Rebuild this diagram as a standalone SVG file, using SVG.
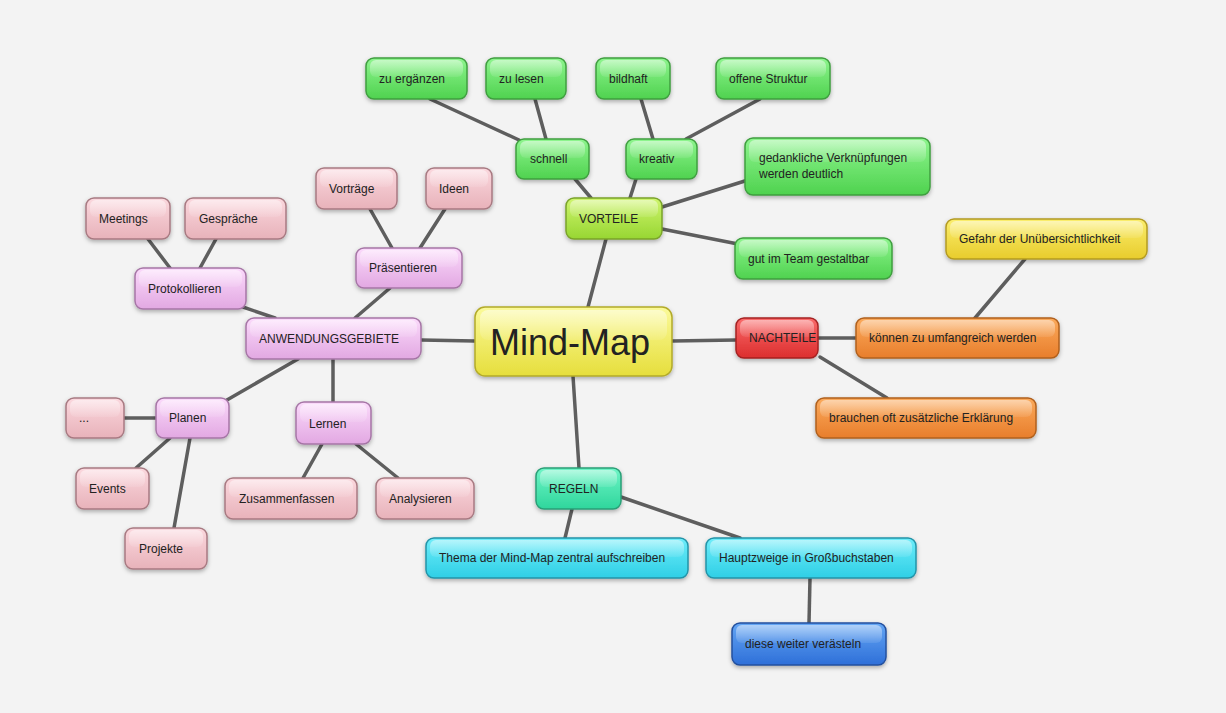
<svg xmlns="http://www.w3.org/2000/svg" width="1226" height="713" viewBox="0 0 1226 713">
<defs>
<linearGradient id="gY" x1="0" y1="0" x2="0" y2="1"><stop offset="0" stop-color="#fbfa9a"/><stop offset="1" stop-color="#e6de3c"/></linearGradient>
<linearGradient id="gG" x1="0" y1="0" x2="0" y2="1"><stop offset="0" stop-color="#8ef58e"/><stop offset="1" stop-color="#4fd24f"/></linearGradient>
<linearGradient id="gV" x1="0" y1="0" x2="0" y2="1"><stop offset="0" stop-color="#cff56e"/><stop offset="1" stop-color="#97d632"/></linearGradient>
<linearGradient id="gR" x1="0" y1="0" x2="0" y2="1"><stop offset="0" stop-color="#fa6a6a"/><stop offset="1" stop-color="#dc2e2e"/></linearGradient>
<linearGradient id="gO" x1="0" y1="0" x2="0" y2="1"><stop offset="0" stop-color="#fbaa5c"/><stop offset="1" stop-color="#e87e2c"/></linearGradient>
<linearGradient id="gYe" x1="0" y1="0" x2="0" y2="1"><stop offset="0" stop-color="#fbee6e"/><stop offset="1" stop-color="#e8cc2c"/></linearGradient>
<linearGradient id="gT" x1="0" y1="0" x2="0" y2="1"><stop offset="0" stop-color="#6ef5c6"/><stop offset="1" stop-color="#2fd69c"/></linearGradient>
<linearGradient id="gC" x1="0" y1="0" x2="0" y2="1"><stop offset="0" stop-color="#6eedfa"/><stop offset="1" stop-color="#2fcfe6"/></linearGradient>
<linearGradient id="gB" x1="0" y1="0" x2="0" y2="1"><stop offset="0" stop-color="#64a6f4"/><stop offset="1" stop-color="#2e6fd8"/></linearGradient>
<linearGradient id="gP" x1="0" y1="0" x2="0" y2="1"><stop offset="0" stop-color="#fbdafb"/><stop offset="1" stop-color="#e2a8e2"/></linearGradient>
<linearGradient id="gK" x1="0" y1="0" x2="0" y2="1"><stop offset="0" stop-color="#fbd8de"/><stop offset="1" stop-color="#e8b2ba"/></linearGradient>
<linearGradient id="gH" x1="0" y1="0" x2="0" y2="1"><stop offset="0" stop-color="#ffffff" stop-opacity="0.5"/><stop offset="1" stop-color="#ffffff" stop-opacity="0.08"/></linearGradient>
<filter id="sh" x="-20%" y="-30%" width="140%" height="170%"><feDropShadow dx="0" dy="2" stdDeviation="2" flood-color="#000" flood-opacity="0.3"/></filter>
</defs>
<style>
.n rect.b{stroke-width:1.5;filter:url(#sh)}
.n rect.h{fill:url(#gH)}
.n text{font-family:"Liberation Sans",Arial,sans-serif;font-size:12px;fill:#222}
.Y rect.b{fill:url(#gY);stroke:#b3ab2a}
.G rect.b{fill:url(#gG);stroke:#3f9e3f}
.V rect.b{fill:url(#gV);stroke:#7aa32a}
.R rect.b{fill:url(#gR);stroke:#a52222}
.O rect.b{fill:url(#gO);stroke:#b0601e}
.Ye rect.b{fill:url(#gYe);stroke:#b39a22}
.T rect.b{fill:url(#gT);stroke:#2a9f77}
.C rect.b{fill:url(#gC);stroke:#2294a8}
.B rect.b{fill:url(#gB);stroke:#24509e}
.P rect.b{fill:url(#gP);stroke:#a676a6}
.K rect.b{fill:url(#gK);stroke:#a87a82}
#connectors line{stroke:#5e5e5e;stroke-width:3.5;stroke-linecap:round}
</style>
<rect width="1226" height="713" fill="#f3f3f3"/>
<g id="connectors">
<line x1="588" y1="307" x2="606" y2="239"/>
<line x1="591" y1="198" x2="575" y2="179"/>
<line x1="630" y1="198" x2="636" y2="179"/>
<line x1="519" y1="140" x2="430" y2="99"/>
<line x1="546" y1="139" x2="535" y2="99"/>
<line x1="653" y1="139" x2="641" y2="99"/>
<line x1="686" y1="139" x2="760" y2="99"/>
<line x1="662" y1="207" x2="748" y2="180"/>
<line x1="662" y1="229" x2="738" y2="244"/>
<line x1="672" y1="341" x2="736" y2="340"/>
<line x1="818" y1="338" x2="856" y2="338"/>
<line x1="820" y1="357" x2="887" y2="398"/>
<line x1="975" y1="318" x2="1025" y2="259"/>
<line x1="573" y1="376" x2="579" y2="468"/>
<line x1="572" y1="509" x2="565" y2="538"/>
<line x1="621" y1="497" x2="740" y2="538"/>
<line x1="810" y1="578" x2="809" y2="623"/>
<line x1="475" y1="341" x2="421" y2="340"/>
<line x1="355" y1="318" x2="390" y2="288"/>
<line x1="392" y1="248" x2="370" y2="209"/>
<line x1="420" y1="248" x2="445" y2="209"/>
<line x1="275" y1="318" x2="240" y2="306"/>
<line x1="170" y1="268" x2="148" y2="239"/>
<line x1="200" y1="268" x2="216" y2="239"/>
<line x1="298" y1="359" x2="220" y2="404"/>
<line x1="333" y1="359" x2="333" y2="402"/>
<line x1="156" y1="418" x2="124" y2="418"/>
<line x1="170" y1="438" x2="136" y2="468"/>
<line x1="190" y1="438" x2="174" y2="528"/>
<line x1="322" y1="444" x2="303" y2="478"/>
<line x1="356" y1="444" x2="398" y2="478"/>
</g>
<g id="mindmap" class="n Y"><rect class="b" x="475" y="307" width="197" height="69" rx="10"/><rect class="h" x="480" y="310" width="187" height="30" rx="8"/><text x="490" y="355" style="font-size:36px">Mind-Map</text></g>
<g id="vorteile" class="n V"><rect class="b" x="566" y="198" width="96" height="41" rx="8"/><rect class="h" x="570" y="200" width="88" height="17" rx="6"/><text x="579" y="223">VORTEILE</text></g>
<g id="schnell" class="n G"><rect class="b" x="516" y="139" width="73" height="40" rx="8"/><rect class="h" x="520" y="141" width="65" height="17" rx="6"/><text x="530" y="163">schnell</text></g>
<g id="kreativ" class="n G"><rect class="b" x="626" y="139" width="71" height="40" rx="8"/><rect class="h" x="630" y="141" width="63" height="17" rx="6"/><text x="639" y="163">kreativ</text></g>
<g id="zuergaenzen" class="n G"><rect class="b" x="366" y="58" width="101" height="41" rx="8"/><rect class="h" x="370" y="60" width="93" height="17" rx="6"/><text x="379" y="83">zu ergänzen</text></g>
<g id="zulesen" class="n G"><rect class="b" x="486" y="58" width="80" height="41" rx="8"/><rect class="h" x="490" y="60" width="72" height="17" rx="6"/><text x="499" y="83">zu lesen</text></g>
<g id="bildhaft" class="n G"><rect class="b" x="596" y="58" width="74" height="41" rx="8"/><rect class="h" x="600" y="60" width="66" height="17" rx="6"/><text x="609" y="83">bildhaft</text></g>
<g id="offenestruktur" class="n G"><rect class="b" x="716" y="58" width="114" height="41" rx="8"/><rect class="h" x="720" y="60" width="106" height="17" rx="6"/><text x="729" y="83">offene Struktur</text></g>
<g id="gedankliche" class="n G"><rect class="b" x="745" y="138" width="185" height="57" rx="8"/><rect class="h" x="749" y="140" width="177" height="22" rx="6"/><text x="759" y="162">gedankliche Verknüpfungen</text><text x="759" y="178">werden deutlich</text></g>
<g id="team" class="n G"><rect class="b" x="735" y="238" width="157" height="41" rx="8"/><rect class="h" x="739" y="240" width="149" height="17" rx="6"/><text x="748" y="263">gut im Team gestaltbar</text></g>
<g id="nachteile" class="n R"><rect class="b" x="736" y="318" width="82" height="40" rx="8"/><rect class="h" x="740" y="320" width="74" height="17" rx="6"/><text x="749" y="342">NACHTEILE</text></g>
<g id="umfangreich" class="n O"><rect class="b" x="856" y="318" width="203" height="40" rx="8"/><rect class="h" x="860" y="320" width="195" height="17" rx="6"/><text x="869" y="342">können zu umfangreich werden</text></g>
<g id="erklaerung" class="n O"><rect class="b" x="816" y="398" width="220" height="40" rx="8"/><rect class="h" x="820" y="400" width="212" height="17" rx="6"/><text x="829" y="422">brauchen oft zusätzliche Erklärung</text></g>
<g id="gefahr" class="n Ye"><rect class="b" x="946" y="219" width="201" height="40" rx="8"/><rect class="h" x="950" y="221" width="193" height="17" rx="6"/><text x="959" y="243">Gefahr der Unübersichtlichkeit</text></g>
<g id="regeln" class="n T"><rect class="b" x="536" y="468" width="85" height="41" rx="8"/><rect class="h" x="540" y="470" width="77" height="17" rx="6"/><text x="549" y="493">REGELN</text></g>
<g id="thema" class="n C"><rect class="b" x="426" y="538" width="262" height="40" rx="8"/><rect class="h" x="430" y="540" width="254" height="17" rx="6"/><text x="439" y="562">Thema der Mind-Map zentral aufschreiben</text></g>
<g id="hauptzweige" class="n C"><rect class="b" x="706" y="538" width="210" height="40" rx="8"/><rect class="h" x="710" y="540" width="202" height="17" rx="6"/><text x="719" y="562">Hauptzweige in Großbuchstaben</text></g>
<g id="veraesteln" class="n B"><rect class="b" x="732" y="623" width="154" height="42" rx="8"/><rect class="h" x="736" y="625" width="146" height="18" rx="6"/><text x="745" y="648">diese weiter verästeln</text></g>
<g id="anwendungsgebiete" class="n P"><rect class="b" x="246" y="318" width="175" height="41" rx="8"/><rect class="h" x="250" y="320" width="167" height="17" rx="6"/><text x="259" y="343">ANWENDUNGSGEBIETE</text></g>
<g id="praesentieren" class="n P"><rect class="b" x="356" y="248" width="106" height="40" rx="8"/><rect class="h" x="360" y="250" width="98" height="17" rx="6"/><text x="369" y="272">Präsentieren</text></g>
<g id="vortraege" class="n K"><rect class="b" x="316" y="168" width="81" height="41" rx="8"/><rect class="h" x="320" y="170" width="73" height="17" rx="6"/><text x="329" y="193">Vorträge</text></g>
<g id="ideen" class="n K"><rect class="b" x="426" y="168" width="66" height="41" rx="8"/><rect class="h" x="430" y="170" width="58" height="17" rx="6"/><text x="439" y="193">Ideen</text></g>
<g id="protokollieren" class="n P"><rect class="b" x="135" y="268" width="111" height="41" rx="8"/><rect class="h" x="139" y="270" width="103" height="17" rx="6"/><text x="148" y="293">Protokollieren</text></g>
<g id="meetings" class="n K"><rect class="b" x="86" y="198" width="84" height="41" rx="8"/><rect class="h" x="90" y="200" width="76" height="17" rx="6"/><text x="99" y="223">Meetings</text></g>
<g id="gespraeche" class="n K"><rect class="b" x="185" y="198" width="101" height="41" rx="8"/><rect class="h" x="189" y="200" width="93" height="17" rx="6"/><text x="199" y="223">Gespräche</text></g>
<g id="planen" class="n P"><rect class="b" x="156" y="398" width="73" height="40" rx="8"/><rect class="h" x="160" y="400" width="65" height="17" rx="6"/><text x="169" y="422">Planen</text></g>
<g id="dots" class="n K"><rect class="b" x="66" y="398" width="58" height="40" rx="8"/><rect class="h" x="70" y="400" width="50" height="17" rx="6"/><text x="79" y="422">...</text></g>
<g id="events" class="n K"><rect class="b" x="76" y="468" width="73" height="41" rx="8"/><rect class="h" x="80" y="470" width="65" height="17" rx="6"/><text x="89" y="493">Events</text></g>
<g id="projekte" class="n K"><rect class="b" x="125" y="528" width="82" height="41" rx="8"/><rect class="h" x="129" y="530" width="74" height="17" rx="6"/><text x="139" y="553">Projekte</text></g>
<g id="lernen" class="n P"><rect class="b" x="296" y="402" width="75" height="42" rx="8"/><rect class="h" x="300" y="404" width="67" height="18" rx="6"/><text x="309" y="428">Lernen</text></g>
<g id="zusammenfassen" class="n K"><rect class="b" x="225" y="478" width="132" height="41" rx="8"/><rect class="h" x="229" y="480" width="124" height="17" rx="6"/><text x="239" y="503">Zusammenfassen</text></g>
<g id="analysieren" class="n K"><rect class="b" x="376" y="478" width="98" height="41" rx="8"/><rect class="h" x="380" y="480" width="90" height="17" rx="6"/><text x="389" y="503">Analysieren</text></g>
</svg>
